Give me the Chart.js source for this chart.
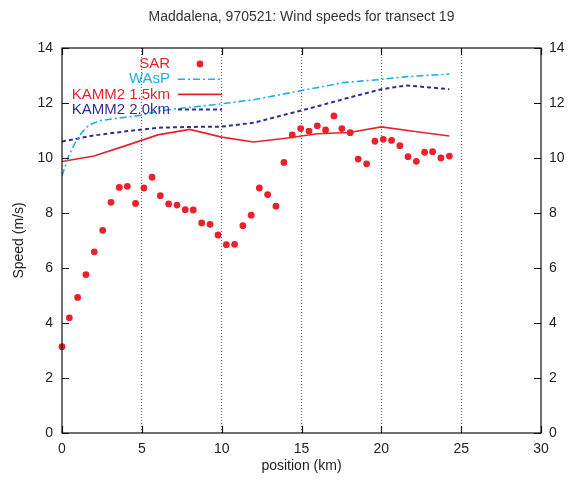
<!DOCTYPE html>
<html>
<head>
<meta charset="utf-8">
<script src="https://cdn.jsdelivr.net/npm/chart.js@4.4.0/dist/chart.umd.min.js"></script>
<style>
html,body{margin:0;padding:0;background:#fff;}
#wrap{width:571px;height:482px;}
</style>
</head>
<body>
<div id="wrap"><canvas id="c" width="571" height="482"></canvas></div>
<script>
const chartTitle = "Maddalena, 970521: Wind speeds for transect 19";
const xTitle = "position (km)";
const yTitle = "Speed (m/s)";
const seriesNames = ["SAR", "WAsP", "KAMM2 1.5km", "KAMM2 2.0km"];

const sarPos = [0, 0.46, 0.98, 1.5, 2.02, 2.55, 3.07, 3.59, 4.09, 4.61, 5.13, 5.64, 6.16, 6.68, 7.2, 7.72, 8.22, 8.75, 9.27, 9.77, 10.29, 10.81, 11.33, 11.85, 12.36, 12.88, 13.4, 13.9, 14.42, 14.95, 15.47, 15.99, 16.51, 17.03, 17.53, 18.05, 18.55, 19.08, 19.6, 20.12, 20.64, 21.16, 21.67, 22.19, 22.71, 23.21, 23.73, 24.26];
const sarSpeed = [3.14, 4.19, 4.93, 5.76, 6.59, 7.37, 8.39, 8.93, 8.97, 8.35, 8.91, 9.30, 8.63, 8.33, 8.29, 8.12, 8.11, 7.64, 7.59, 7.2, 6.85, 6.86, 7.54, 7.92, 8.91, 8.67, 8.25, 9.84, 10.84, 11.07, 10.98, 11.17, 11.02, 11.53, 11.07, 10.92, 9.96, 9.79, 10.61, 10.68, 10.64, 10.45, 10.05, 9.88, 10.21, 10.23, 10.0, 10.07];

const wasPos = [0, 0.4, 0.8, 1.2, 1.7, 2.4, 3.4, 4.9, 6.0, 7.0, 8.0, 10.0, 12.0, 14.0, 16.0, 17.6, 20.0, 21.6, 24.26];
const wasSpeed = [9.35, 10.05, 10.53, 10.9, 11.2, 11.36, 11.44, 11.55, 11.7, 11.78, 11.84, 11.97, 12.12, 12.34, 12.56, 12.74, 12.86, 12.96, 13.05];

const k15Pos = [0, 2, 4, 6, 8, 10, 12, 14, 16, 18, 20, 22, 24.26];
const k15Speed = [9.87, 10.07, 10.45, 10.84, 11.04, 10.76, 10.58, 10.72, 10.88, 10.93, 11.13, 10.97, 10.8];

const k20Pos = [0, 2, 4, 6, 8, 10, 12, 14, 16, 18, 20, 21.6, 24.26];
const k20Speed = [10.6, 10.82, 10.97, 11.1, 11.13, 11.14, 11.28, 11.58, 11.88, 12.2, 12.5, 12.64, 12.5];

const xTicks = [0, 5, 10, 15, 20, 25, 30];
const yTicks = [0, 2, 4, 6, 8, 10, 12, 14];

const pts = (xs, ys) => xs.map((x, i) => ({x: x, y: ys[i]}));

const RED = '#e8222b', CYAN = '#1eaee8', NAVY = '#2e3192';
const FONT = "'Liberation Sans', Arial, sans-serif";
const TXT = '#222';

const frameTicks = {
  id: 'frameTicks',
  afterDatasetsDraw(chart) {
    const {ctx, chartArea: a, scales} = chart;
    ctx.save();
    ctx.strokeStyle = '#111';
    ctx.lineWidth = 1.2;
    ctx.strokeRect(a.left, a.top, a.right - a.left, a.bottom - a.top);
    const L = 7;
    ctx.beginPath();
    xTicks.forEach(v => {
      const px = Math.round(scales.x.getPixelForValue(v)) + 0.5;
      ctx.moveTo(px, a.bottom); ctx.lineTo(px, a.bottom - L);
      ctx.moveTo(px, a.top); ctx.lineTo(px, a.top + L);
    });
    yTicks.forEach(v => {
      const py = Math.round(scales.y.getPixelForValue(v)) + 0.5;
      ctx.moveTo(a.left, py); ctx.lineTo(a.left + L, py);
      ctx.moveTo(a.right, py); ctx.lineTo(a.right - L, py);
    });
    ctx.stroke();
    ctx.restore();
  },
  afterDraw(chart) {
    const {ctx, chartArea: a} = chart;
    ctx.save();
    ctx.fillStyle = '#333';
    ctx.font = '14px ' + FONT;
    ctx.textAlign = 'center';
    ctx.textBaseline = 'middle';
    ctx.fillText(chartTitle, (a.left + a.right) / 2, 17);
    const textRight = a.left + 108;
    const s0 = a.left + 116, s1 = a.left + 160;
    ctx.font = '15px ' + FONT;
    ctx.textAlign = 'right';
    chart.data.datasets.forEach((ds, i) => {
      const y = a.top + 16 + i * 15.2;
      ctx.fillStyle = ds.legendTextColor;
      ctx.fillText(ds.label, textRight, y);
      if (ds.showLine) {
        ctx.save();
        ctx.strokeStyle = ds.borderColor;
        ctx.lineWidth = ds.borderWidth;
        ctx.setLineDash(ds.borderDash || []);
        ctx.beginPath();
        ctx.moveTo(s0, y); ctx.lineTo(s1, y);
        ctx.stroke();
        ctx.restore();
      } else {
        ctx.beginPath();
        ctx.fillStyle = ds.pointBackgroundColor;
        ctx.arc((s0 + s1) / 2, y, ds.pointRadius, 0, Math.PI * 2);
        ctx.fill();
      }
    });
    ctx.restore();
  }
};

new Chart(document.getElementById('c'), {
  type: 'scatter',
  data: {
    datasets: [
      {label: seriesNames[0], data: pts(sarPos, sarSpeed), showLine: false, pointRadius: 3.4,
       pointBackgroundColor: RED, pointBorderWidth: 0, borderColor: RED, legendTextColor: RED, clip: false, order: 0},
      {label: seriesNames[1], data: pts(wasPos, wasSpeed), showLine: true, pointRadius: 0, borderColor: CYAN,
       borderWidth: 1.6, borderDash: [7, 3, 2, 3], legendTextColor: CYAN, order: 1},
      {label: seriesNames[2], data: pts(k15Pos, k15Speed), showLine: true, pointRadius: 0, borderColor: RED,
       borderWidth: 1.6, borderDash: [], legendTextColor: RED, order: 2},
      {label: seriesNames[3], data: pts(k20Pos, k20Speed), showLine: true, pointRadius: 0, borderColor: NAVY,
       borderWidth: 2, borderDash: [4, 3], legendTextColor: NAVY, order: 3}
    ]
  },
  options: {
    responsive: false,
    animation: false,
    events: [],
    layout: {padding: {top: 48, right: 0, bottom: 0, left: 0}},
    plugins: {legend: {display: false}, title: {display: false}, tooltip: {enabled: false}},
    scales: {
      x: {
        type: 'linear', min: 0, max: 30,
        afterBuildTicks: s => { s.ticks = xTicks.map(v => ({value: v})); },
        afterFit: s => { s.height = 49; },
        grid: {
          drawTicks: false,
          color: c => (c.tick && c.tick.value > 0 && c.tick.value < 30) ? '#666' : 'rgba(0,0,0,0)',
          lineWidth: 1
        },
        border: {display: false, dash: [1, 2]},
        ticks: {color: TXT, font: {size: 14, family: FONT}, padding: 8, maxRotation: 0},
        title: {display: true, text: xTitle, color: TXT, font: {size: 14, family: FONT}, padding: {top: 4, bottom: 7}}
      },
      y: {
        type: 'linear', position: 'left', min: 0, max: 14,
        afterBuildTicks: s => { s.ticks = yTicks.map(v => ({value: v})); },
        afterFit: s => { s.width = 62; },
        grid: {display: false, drawTicks: false},
        border: {display: false},
        ticks: {color: TXT, font: {size: 14, family: FONT}, padding: 9},
        title: {display: true, text: yTitle, color: TXT, font: {size: 14, family: FONT}, padding: {top: 11, bottom: 0}}
      },
      y2: {
        type: 'linear', position: 'right', min: 0, max: 14,
        afterBuildTicks: s => { s.ticks = yTicks.map(v => ({value: v})); },
        afterFit: s => { s.width = 30; },
        grid: {display: false, drawTicks: false},
        border: {display: false},
        ticks: {color: TXT, font: {size: 14, family: FONT}, padding: 8}
      }
    }
  },
  plugins: [frameTicks]
});
</script>
</body>
</html>
